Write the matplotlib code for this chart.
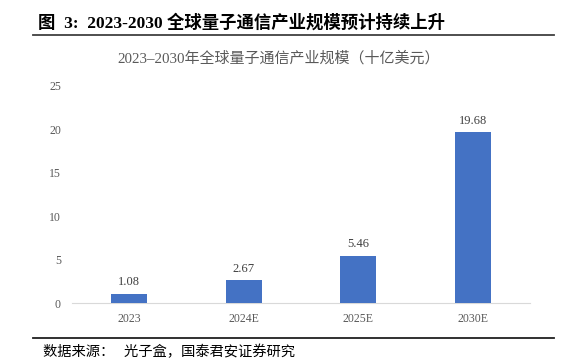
import matplotlib
matplotlib.use("Agg")
import matplotlib.pyplot as plt
from matplotlib.lines import Line2D

categories = ["2023", "2024E", "2025E", "2030E"]
values = [1.08, 2.67, 5.46, 19.68]
yticks = [0, 5, 10, 15, 20, 25]

cjk = ["Noto Sans CJK SC", "DejaVu Sans"]
serif = ["Liberation Serif", "DejaVu Serif"]
mixed = ["Liberation Serif", "Noto Sans CJK SC", "DejaVu Sans"]

fig = plt.figure(figsize=(5.79, 3.6), dpi=100)
ax = fig.add_axes([72/579, 1-303/360, 458/579, 217/360])

x = list(range(len(categories)))
ax.bar(x, values, width=0.315, color="#4472C4", zorder=3)
for xi, v in zip(x, values):
    ax.text(xi, v + 0.6, f"{v:.2f}", ha="center", va="bottom",
            fontsize=9, family=serif, color="#404040")

ax.set_xlim(-0.5, len(categories) - 0.5)
ax.set_ylim(0, 25)
ax.set_yticks(yticks)
ax.set_yticklabels([str(t) for t in yticks], family=serif, fontsize=8.5, color="#595959")
ax.set_xticks(x)
ax.set_xticklabels(categories, family=serif, fontsize=8.5, color="#595959")
ax.tick_params(length=0, pad=8)
ax.tick_params(axis="x", pad=7)
for s in ["top", "right", "left"]:
    ax.spines[s].set_visible(False)
ax.spines["bottom"].set_color("#D9D9D9")
ax.spines["bottom"].set_linewidth(0.8)

fig.text(38/579, 1-23/360, "图  3:  2023-2030 全球量子通信产业规模预计持续上升",
         family=mixed, fontsize=12.5, fontweight="bold", va="center", ha="left", color="black")
fig.add_artist(Line2D([33/579, 554/579], [1-35/360, 1-35/360], color="#404040", lw=1.3))

fig.text(279/579, 1-58/360, "2023–2030年全球量子通信产业规模（十亿美元）",
         family=mixed, fontsize=10.8, va="center", ha="center", color="#595959")

fig.add_artist(Line2D([33/579, 554/579], [1-338/360, 1-338/360], color="#202020", lw=1.3))
fig.text(43/579, 1-352/360, "数据来源：   光子盒，国泰君安证券研究",
         family=cjk, fontsize=10.3, va="center", ha="left", color="black")

fig.savefig("out.png", dpi=100)
